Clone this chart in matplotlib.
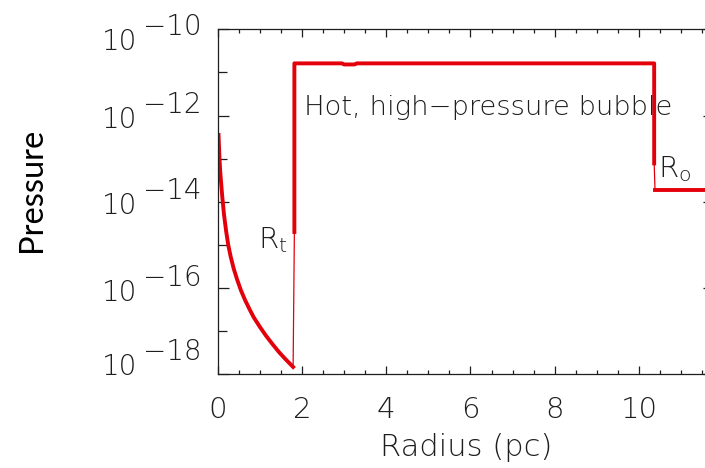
import matplotlib
matplotlib.use('Agg')
import matplotlib.pyplot as plt
import matplotlib.transforms as mtransforms
from matplotlib.ticker import FixedLocator, NullFormatter
import numpy as np

# pressure profile (radius in pc, log10 pressure)
wind_r = [0.02, 0.04, 0.06, 0.08, 0.11, 0.15, 0.20, 0.25, 0.31, 0.38, 0.46,
          0.55, 0.65, 0.75, 0.85, 1.00, 1.15, 1.30, 1.45, 1.60, 1.79]
wind_logp = [-12.45, -12.95, -13.30, -13.55, -13.90, -14.30, -14.68, -15.00, -15.28,
             -15.55, -15.80, -16.05, -16.28, -16.48, -16.67, -16.90, -17.11, -17.30,
             -17.48, -17.64, -17.83]

bubble_r = [1.82, 1.82, 2.95, 3.0, 3.25, 3.3, 10.36, 10.36]
bubble_logp = [-14.70, -10.79, -10.79, -10.815, -10.815, -10.79, -10.79, -13.11]

ambient_r = [10.38, 12.5]
ambient_logp = [-13.73, -13.73]

xticks_major = [0, 2, 4, 6, 8, 10, 12]
ylabel_exps = [-10, -12, -14, -16, -18]
yminor_exps = [-11, -13, -15, -17]

red = '#e3000b'
ink = '#1e1e1e'
idl_font = 'DejaVu Sans'
idl_weight = 'light'

fig = plt.figure(figsize=(7.05, 4.68), dpi=100)
W, H = 705, 468
x0, x1, ytop, ybot = 217.7, 714.0, 29.3, 374.3
ax = fig.add_axes([x0 / W, 1 - ybot / H, (x1 - x0) / W, (ybot - ytop) / H])

# thin line through the whole profile (jumps), thick on the resolved parts
all_r = wind_r + bubble_r + ambient_r
all_p = 10.0 ** np.array(wind_logp + bubble_logp + ambient_logp)
ax.plot(all_r, all_p, color=red, lw=0.9)
for r, lp in [(wind_r, wind_logp), (bubble_r, bubble_logp), (ambient_r, ambient_logp)]:
    ax.plot(r, 10.0 ** np.array(lp), color=red, lw=2.8, solid_joinstyle='round')

ax.set_yscale('log')
ax.set_xlim(0, 11.78)
ax.set_ylim(1e-18, 1e-10)

for s in ax.spines.values():
    s.set_linewidth(0.9)
    s.set_color(ink)

ax.xaxis.set_major_locator(FixedLocator(xticks_major))
ax.xaxis.set_minor_locator(FixedLocator(np.arange(0, 12.5, 0.5)))
ax.yaxis.set_major_locator(FixedLocator([10.0 ** e for e in ylabel_exps]))
ax.yaxis.set_minor_locator(FixedLocator([10.0 ** e for e in yminor_exps]))
ax.yaxis.set_major_formatter(NullFormatter())
ax.yaxis.set_minor_formatter(NullFormatter())

ax.tick_params(axis='both', which='both', direction='in', top=True, right=True,
               color=ink, width=0.9)
ax.tick_params(axis='x', which='major', length=5.5, pad=15.5,
               labelsize=21, labelcolor=ink)
ax.tick_params(axis='x', which='minor', length=2.8)
ax.tick_params(axis='y', which='major', length=8)
ax.tick_params(axis='y', which='minor', length=6.5)
for lab in ax.get_xticklabels():
    lab.set_family(idl_font)
    lab.set_weight(idl_weight)

# IDL style y labels: "10" with a full size raised exponent
trans = mtransforms.blended_transform_factory(ax.transAxes, ax.transData)
for e in ylabel_exps:
    shift = 0
    if e == ylabel_exps[0]:
        shift = -8
    elif e == ylabel_exps[-1]:
        shift = 12
    base_t = mtransforms.offset_copy(trans, fig=fig, x=-116, y=-12.5 + shift, units='dots')
    exp_t = mtransforms.offset_copy(trans, fig=fig, x=-16, y=2.5 + shift, units='dots')
    ax.text(0, 10.0 ** e, '10', transform=base_t, ha='left', va='baseline',
            fontsize=20, color=ink, family=idl_font, weight=idl_weight)
    ax.text(0, 10.0 ** e, '\u2212' + str(-e), transform=exp_t, ha='right', va='baseline',
            fontsize=20, color=ink, family=idl_font, weight=idl_weight)

ax.set_xlabel('Radius (pc)', fontsize=22, color=ink, family=idl_font,
              weight=idl_weight, labelpad=6.5)

ax.text(2.05, 10 ** -11.99, 'Hot, high\u2212pressure bubble', fontsize=19.7,
        color=ink, family=idl_font, weight=idl_weight, va='baseline', ha='left')
ax.text(0.96, 10 ** -15.07, r'$\mathregular{R_t}$', fontsize=21, color=ink,
        family=idl_font, weight=idl_weight, va='baseline', ha='left')
ax.text(10.45, 10 ** -13.43, r'$\mathregular{R_o}$', fontsize=21, color=ink,
        family=idl_font, weight=idl_weight, va='baseline', ha='left')

fig.text(32 / W, 1 - 189.5 / H, 'Pressure', rotation=90, ha='center', va='center',
         fontsize=23.5, family='Lato', color='black')

fig.savefig('out.png', dpi=100)
